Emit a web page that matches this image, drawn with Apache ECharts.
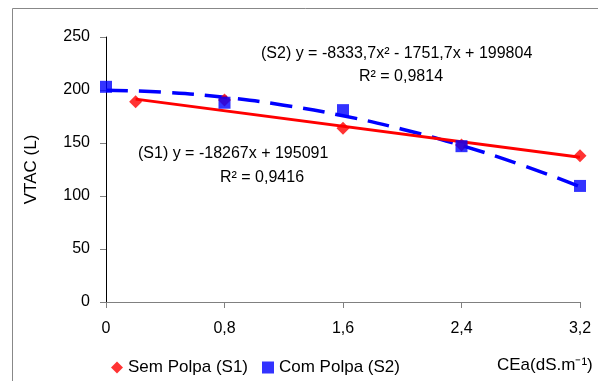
<!DOCTYPE html>
<html>
<head>
<meta charset="utf-8">
<script src="https://cdn.jsdelivr.net/npm/echarts@6/dist/echarts.min.js"></script>
<style>html,body{margin:0;padding:0;background:#fff}#c{width:598px;height:381px}</style>
</head>
<body>
<div id="c"></div>
<script>
// Observed data
var xS1 = [0.2, 0.8, 1.6, 2.4, 3.2];
var yS1 = [189, 190.5, 164, 148, 138];
var xS2 = [0, 0.8, 1.6, 2.4, 3.2];
var yS2 = [203, 188, 181, 147, 109.5];
// Trend lines
var xTrend1 = [0.2, 3.2];
var yTrend1 = [191.4, 136.6];
var xTrend2 = [0, 0.4, 0.8, 1.2, 1.6, 2.0, 2.4, 2.8, 3.2];
var yTrend2 = [199.8, 197.8, 193.1, 185.7, 175.7, 163.0, 147.6, 129.6, 108.9];
var xTicks = ['0', '0,8', '1,6', '2,4', '3,2'];
var seriesNames = ['Sem Polpa (S1)', 'Com Polpa (S2)'];

function pairs(xs, ys) { return xs.map(function (x, i) { return [x, ys[i]]; }); }

var font = 'Liberation Sans, Arial, sans-serif';
var chart = echarts.init(document.getElementById('c'), null, { renderer: 'canvas' });
function txt(x, y, s, size) {
  return { type: 'text', x: x, y: y, silent: true,
    style: { text: s, fill: '#000', font: size + 'px ' + font, verticalAlign: 'middle', align: 'left' } };
}
chart.setOption({
  animation: false,
  textStyle: { fontFamily: font },
  grid: { left: 106, top: 37, right: 18, bottom: 79 },
  xAxis: {
    type: 'value', min: 0, max: 3.2, interval: 0.8,
    axisLine: { lineStyle: { color: '#808080', width: 1 } },
    axisTick: { show: true, length: 6, lineStyle: { color: '#808080' } },
    splitLine: { show: false },
    axisLabel: {
      color: '#000', fontSize: 16, fontFamily: font, margin: 19,
      formatter: function (v) { return xTicks[Math.round(v / 0.8)]; }
    }
  },
  yAxis: {
    type: 'value', min: 0, max: 250, interval: 50,
    name: 'VTAC (L)', nameLocation: 'middle', nameGap: 66,
    nameTextStyle: { color: '#000', fontSize: 17, fontFamily: font },
    axisLine: { show: true, lineStyle: { color: '#000', width: 1 } },
    axisTick: { show: true, length: 6, lineStyle: { color: '#808080' } },
    splitLine: { show: false },
    axisLabel: { color: '#000', fontSize: 16, fontFamily: font, margin: 16 }
  },
  legend: {
    left: 106, top: 354, itemGap: 14, itemWidth: 12, itemHeight: 12,
    textStyle: { color: '#000', fontSize: 17, fontFamily: font },
    data: [
      { name: seriesNames[0], icon: 'diamond' },
      { name: seriesNames[1], icon: 'rect' }
    ]
  },
  series: [
    {
      type: 'line', name: 'trend2', data: pairs(xTrend2, yTrend2), smooth: true,
      symbol: 'none', z: 2,
      lineStyle: { color: '#0000ff', width: 3.5, type: [22, 11] }
    },
    {
      type: 'line', name: 'trend1', data: pairs(xTrend1, yTrend1),
      symbol: 'none', z: 3,
      lineStyle: { color: '#ff0000', width: 3 }
    },
    {
      type: 'scatter', name: seriesNames[0], data: pairs(xS1, yS1),
      symbol: 'diamond', symbolSize: 13, z: 4,
      itemStyle: { color: '#ff0000' }
    },
    {
      type: 'scatter', name: seriesNames[1], data: pairs(xS2, yS2),
      symbol: 'rect', symbolSize: 12, z: 5,
      itemStyle: { color: '#0000ff' }
    }
  ],
  graphic: [
    { type: 'rect', shape: { x: 12.5, y: 8.5, width: 620, height: 420 },
      style: { fill: 'none', stroke: '#888888', lineWidth: 1 }, silent: true, z: -1 },
    txt(261, 54, '(S2) y = -8333,7x² - 1751,7x + 199804', 16),
    txt(359, 77, 'R² = 0,9814', 16),
    txt(138, 154, '(S1) y = -18267x + 195091', 16),
    txt(220, 178, 'R² = 0,9416', 16),
    txt(497, 365, 'CEa(dS.m⁻¹)', 17)
  ]
});
</script>
</body>
</html>
